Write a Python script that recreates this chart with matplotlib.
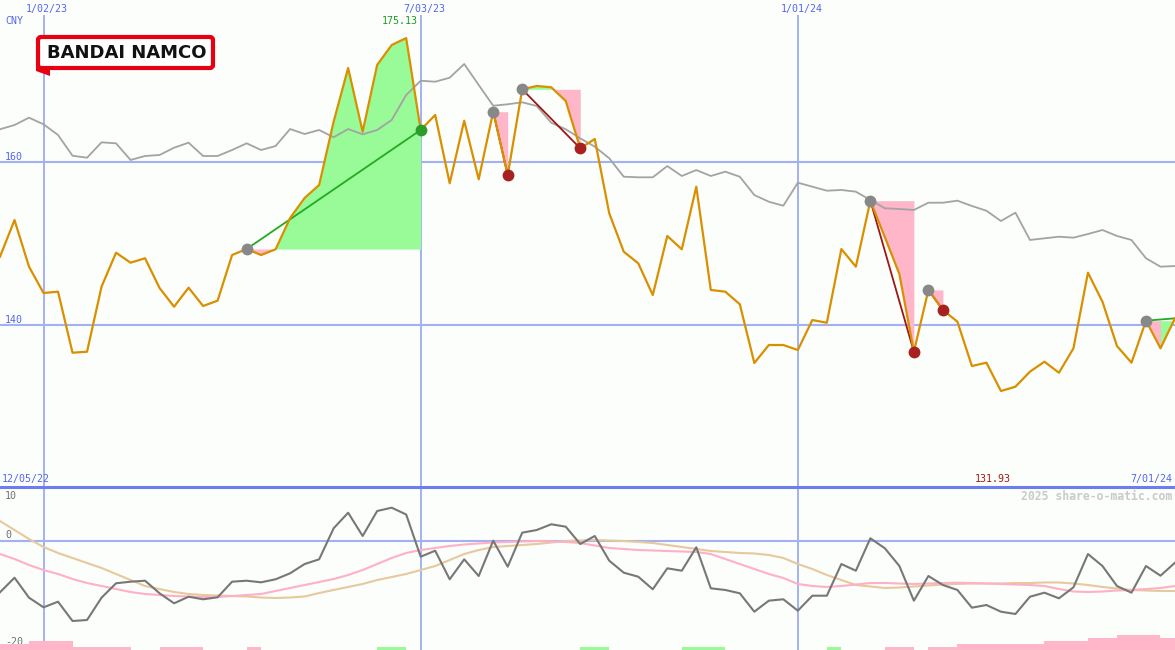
import matplotlib
matplotlib.use('Agg')
import matplotlib.pyplot as plt
import matplotlib.transforms as mtransforms
from matplotlib.patches import FancyBboxPatch, Polygon
import numpy as np

# ---------------- data ----------------
price = [148.37, 152.86, 147.15, 143.93, 144.09, 136.62, 136.74, 144.70, 148.86, 147.64,
         148.18, 144.54, 142.25, 144.58, 142.34, 142.99, 148.58, 149.31, 148.58, 149.28,
         153.11, 155.56, 157.15, 164.90, 171.47, 163.67, 171.84, 174.28, 175.13, 163.88,
         165.72, 157.36, 165.02, 157.85, 166.12, 158.37, 168.86, 169.27, 169.11, 167.43,
         161.64, 162.78, 153.68, 148.98, 147.56, 143.68, 150.91, 149.28, 156.94, 144.30,
         144.09, 142.55, 135.36, 137.56, 137.56, 136.95, 140.62, 140.29, 149.31, 147.15,
         155.23, 150.75, 146.25, 136.74, 144.30, 141.85, 140.42, 134.99, 135.40, 131.93,
         132.46, 134.30, 135.52, 134.17, 137.16, 146.41, 142.86, 137.44, 135.40, 140.54,
         137.16, 140.83]

bench = [163.97, 164.49, 165.39, 164.58, 163.27, 160.73, 160.49, 162.37, 162.25, 160.21,
         160.70, 160.82, 161.71, 162.33, 160.70, 160.70, 161.43, 162.25, 161.43, 161.92,
         164.00, 163.39, 163.88, 162.99, 164.00, 163.35, 163.88, 165.10, 168.16, 169.91,
         169.79, 170.28, 171.96, 169.39, 166.85, 167.03, 167.27, 166.82, 164.77, 163.97,
         162.86, 161.84, 160.42, 158.16, 158.09, 158.09, 159.47, 158.25, 158.98, 158.25,
         158.78, 158.16, 155.92, 155.10, 154.61, 157.43, 156.94, 156.45, 156.54, 156.33,
         155.31, 154.30, 154.21, 154.09, 154.98, 154.98, 155.23, 154.58, 154.00, 152.74,
         153.76, 150.42, 150.62, 150.82, 150.70, 151.15, 151.64, 150.91, 150.42, 148.18,
         147.15, 147.23]

osc = [-9.64, -6.92, -10.65, -12.45, -11.40, -15.01, -14.82, -10.65, -7.96, -7.66,
       -7.48, -9.83, -11.70, -10.47, -10.95, -10.58, -7.66, -7.48, -7.78, -7.21,
       -6.09, -4.36, -3.48, 2.32, 5.23, 0.88, 5.55, 6.17, 4.90, -2.99,
       -1.87, -7.21, -3.48, -6.60, 0.00, -4.86, 1.50, 2.00, 3.07, 2.62,
       -0.62, 0.88, -3.74, -5.98, -6.73, -9.08, -5.16, -5.61, -1.23, -8.90,
       -9.21, -9.83, -13.27, -11.21, -10.95, -13.08, -10.28, -10.28, -4.36, -5.61,
       0.45, -1.42, -4.73, -11.21, -6.60, -8.28, -9.21, -12.52, -12.02, -13.27,
       -13.70, -10.47, -9.72, -10.77, -8.71, -2.49, -4.73, -8.47, -9.72, -4.73,
       -6.54, -4.11]

osc_fast = [-2.49, -3.42, -4.54, -5.48, -6.22, -7.16, -7.91, -8.47, -9.03, -9.59,
            -9.96, -10.15, -10.34, -10.43, -10.52, -10.52, -10.34, -10.15, -9.96, -9.40,
            -8.84, -8.28, -7.72, -7.16, -6.41, -5.48, -4.36, -3.23, -2.30, -1.74,
            -1.36, -0.99, -0.71, -0.52, -0.34, -0.24, -0.15, -0.06, -0.15, -0.24,
            -0.43, -0.90, -1.36, -1.55, -1.74, -1.83, -1.93, -2.02, -2.11, -2.49,
            -3.42, -4.36, -5.29, -6.22, -6.97, -8.09, -8.47, -8.65, -8.47, -8.19,
            -7.91, -7.91, -8.00, -8.09, -8.00, -7.91, -7.85, -7.91, -8.00, -8.09,
            -8.19, -8.28, -8.47, -9.03, -9.50, -9.59, -9.50, -9.31, -9.21, -9.03,
            -8.84, -8.47]

osc_slow = [3.68, 2.00, 0.32, -1.18, -2.30, -3.23, -4.17, -5.10, -6.22, -7.35,
            -8.47, -9.03, -9.59, -9.96, -10.15, -10.24, -10.34, -10.43, -10.62, -10.71,
            -10.62, -10.43, -9.78, -9.21, -8.65, -8.09, -7.35, -6.79, -6.22, -5.48,
            -4.73, -3.61, -2.49, -1.74, -1.18, -0.99, -0.80, -0.62, -0.34, -0.06,
            0.04, 0.13, 0.04, -0.06, -0.24, -0.43, -0.80, -1.18, -1.55, -1.93,
            -2.11, -2.30, -2.39, -2.67, -3.23, -4.36, -5.29, -6.41, -7.35, -8.28,
            -8.56, -8.84, -8.75, -8.56, -8.37, -8.19, -8.09, -8.00, -8.00, -8.00,
            -7.91, -7.91, -7.81, -7.81, -8.00, -8.28, -8.65, -8.93, -9.21, -9.31,
            -9.40, -9.40]

# signed strip bars per week interval (+ green, - pink)
strip = [-6, -6, -9, -9, -9, -3, -3, -3, -3, 0,
         0, -3, -3, -3, 0, 0, 0, -3, 0, 0,
         0, 0, 0, 0, 0, 0, 3, 3, 0, 0,
         0, 0, 0, 0, 0, 0, 0, 0, 0, 0,
         3, 3, 0, 0, 0, 0, 0, 3, 3, 3,
         0, 0, 0, 0, 0, 0, 0, 3, 0, 0,
         0, -3, -3, 0, -3, -3, -6, -6, -6, -6,
         -6, -6, -9, -9, -9, -12, -12, -15, -15, -15,
         -12]

trades = [(17, 29), (34, 35), (36, 40), (60, 63), (64, 65), (79, 81)]

date_labels = ['1/02/23', '7/03/23', '1/01/24']
date_idx = [3, 29, 55]
start_label = '12/05/22'
end_label = '7/01/24'
currency = 'CNY'
price_ticks = [160, 140]
osc_ticks = [10, 0, -20]
watermark = '2025 share-o-matic.com'
brand = 'BANDAI NAMCO'

# ---------------- style ----------------
W, H = 1175, 650
BG = '#fbfefb'
GRID = '#a3b1f2'
SEP = '#6d7cee'
BLUE_TXT = '#5566ee'
ORANGE = '#d99000'
GRAYL = '#a3a3a3'
GREEN_FILL = '#98fb98'
PINK_FILL = '#ffb6c9'
MONO = 'DejaVu Sans Mono'

x = np.arange(len(price))
price_a = np.array(price)
n = len(price) - 1

fig = plt.figure(figsize=(W / 100, H / 100), dpi=100, facecolor=BG)

sep_px = 487
ax = fig.add_axes([0, 1 - sep_px / H, 1, sep_px / H])
axb = fig.add_axes([0, 0, 1, 1 - sep_px / H])
axs = fig.add_axes([0, 0, 1, 20 / H])
for a in (ax, axb, axs):
    a.set_facecolor('none')
    a.set_axis_off()
    a.set_xlim(0, n)

# price panel scale: 160 at y=161.7px, 8.17 px per unit
ppu = 8.17
ax.set_ylim(160 - (sep_px - 161.7) / ppu, 160 + 161.7 / ppu)
# oscillator panel: 0 at y=540.7px, 5.35 px per unit
opu = 5.35
axb.set_ylim(-(H - 540.7) / opu, (540.7 - sep_px) / opu)
axs.set_ylim(0, 20)

# grid
for t in price_ticks:
    ax.axhline(t, color=GRID, lw=1.5, zorder=0.5)
axb.axhline(0, color=GRID, lw=1.5, zorder=0.5)
axb.axhline(axb.get_ylim()[1], color=SEP, lw=2.2, zorder=6, clip_on=False)
for di in date_idx:
    ax.axvline(di, ymin=0, ymax=(sep_px - 16) / sep_px, color=GRID, lw=1.4, zorder=0.5)
    axb.axvline(di, color=GRID, lw=1.4, zorder=0.5)

# trades fills: consecutive segments of the same colour are filled together
for e, q in trades:
    lvl = price[e]
    seg_cols = [price[j + 1] >= lvl for j in range(e, q)]
    start = e
    for j in range(e, q):
        last_seg = (j == q - 1) or (seg_cols[j - e + 1] != seg_cols[j - e])
        if last_seg:
            xs = np.arange(start, j + 2)
            ys = price_a[start:j + 2]
            col = GREEN_FILL if seg_cols[j - e] else PINK_FILL
            ax.fill_between(xs, ys, lvl, color=col, lw=0, zorder=1)
            start = j + 1

# benchmark and price
ax.plot(x, bench, color=GRAYL, lw=1.3, zorder=2)
for e, q in trades:
    win = price[q] > price[e]
    ax.plot([e, q], [price[e], price[q]], color='#22aa22' if win else '#a01515',
            lw=1.3, zorder=3)
ax.plot(x, price, color=ORANGE, lw=1.6, zorder=4)
for e, q in trades:
    win = price[q] > price[e]
    ax.plot(e, price[e], 'o', color='#888888', ms=8.5, mec='none', zorder=5)
    if q != n:
        ax.plot(q, price[q], 'o', color='#2a9d2a' if win else '#a82020', ms=8.5,
                mec='none', zorder=5)

# text helpers
bl_top = mtransforms.blended_transform_factory(ax.transData, ax.transAxes)
ax_y_data = mtransforms.blended_transform_factory(ax.transAxes, ax.transData)
fs = 7.2

def yfrac_top(py):
    return (sep_px - py) / sep_px

for lab, di in zip(date_labels, date_idx):
    ax.annotate(lab, xy=(di, yfrac_top(9)), xycoords=bl_top, xytext=(3.5, 0),
                textcoords='offset pixels', ha='center', va='center',
                fontsize=fs, family=MONO, color=BLUE_TXT)
ax.text(5 / W, yfrac_top(21), currency, transform=ax.transAxes, ha='left', va='center',
        fontsize=fs, family=MONO, color=BLUE_TXT)
for t in price_ticks:
    ax.annotate(str(t), xy=(5 / W, t), xycoords=ax_y_data, xytext=(0, 5),
                textcoords='offset pixels', ha='left', va='center',
                fontsize=fs, family=MONO, color=BLUE_TXT)
imax = int(np.argmax(price_a))
imin = int(np.argmin(price_a))
ax.annotate(f'{price[imax]:.2f}', xy=(imax, yfrac_top(21)), xycoords=bl_top,
            xytext=(-6.5, 0), textcoords='offset pixels', ha='center', va='center',
            fontsize=fs, family=MONO, color='#1e9a1e')
ax.annotate(f'{price[imin]:.2f}', xy=(imin, yfrac_top(479)), xycoords=bl_top,
            xytext=(-8, 0), textcoords='offset pixels', ha='center', va='center',
            fontsize=fs, family=MONO, color='#a01818')
ax.text(2 / W, yfrac_top(479), start_label, transform=ax.transAxes, ha='left',
        va='center', fontsize=fs, family=MONO, color=BLUE_TXT)
ax.text(1172 / W, yfrac_top(479), end_label, transform=ax.transAxes, ha='right',
        va='center', fontsize=fs, family=MONO, color=BLUE_TXT)

# oscillator panel
axb.plot(x, osc_slow, color='#e6c99c', lw=1.5, zorder=2)
axb.plot(x, osc_fast, color='#ffb0c6', lw=1.5, zorder=2)
axb.plot(x, osc, color='#777777', lw=1.5, zorder=3)
bl_b = mtransforms.blended_transform_factory(axb.transAxes, axb.transData)
osc_off = {10: -8.5, 0: 6, -20: 6}
for t in osc_ticks:
    axb.annotate(str(t), xy=(5 / W, t), xycoords=bl_b, xytext=(0, osc_off[t]),
                 textcoords='offset pixels', ha='left', va='center',
                 fontsize=fs, family=MONO, color='#707070')
axb.text(1172 / W, (H - 496) / (H - sep_px), watermark, transform=axb.transAxes,
         ha='right', va='center', fontsize=8.3, family=MONO, weight='bold',
         color='#cacaca')

# bottom strip bars
sv = np.array(strip)
cols = [GREEN_FILL if v > 0 else PINK_FILL for v in sv]
axs.bar(np.arange(len(sv)), np.abs(sv), width=1.0, align='edge', color=cols, lw=0)

# logo (axes in figure-pixel units)
lg = fig.add_axes([30 / W, 1 - 80 / H, 190 / W, 50 / H])
lg.set_axis_off()
lg.set_xlim(30, 220)
lg.set_ylim(80, 30)
RED = '#e60012'
lg.add_patch(Polygon([[36, 58], [36, 71], [50, 76], [50, 66]], closed=True,
                     fc=RED, ec='none', zorder=1))
lg.add_patch(FancyBboxPatch((38, 37), 175, 31, boxstyle='round,pad=0,rounding_size=3',
                            fc='white', ec=RED, lw=3.0, zorder=2))
lg.text(126.5, 52.5, brand, ha='center', va='center', fontsize=13, family='DejaVu Sans',
        weight='bold', color='#111111', zorder=3)

fig.savefig('out.png', dpi=100, facecolor=BG)
